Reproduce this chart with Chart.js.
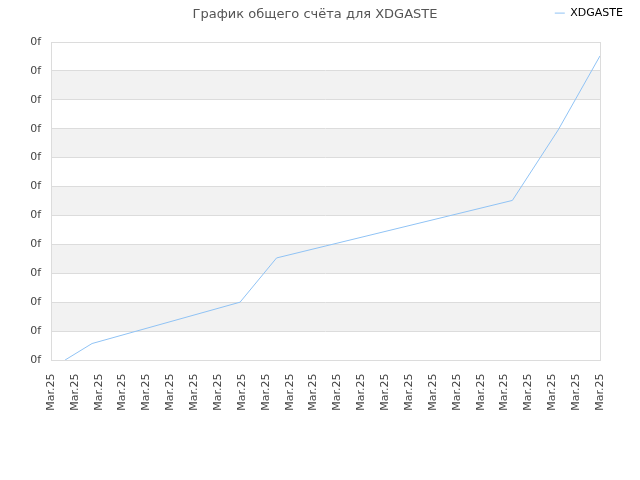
<!DOCTYPE html>
<html>
<head>
<meta charset="utf-8">
<script src="https://cdn.jsdelivr.net/npm/chart.js@4/dist/chart.umd.min.js"></script>
<style>
  body { margin: 0; background: #fff; }
  #wrap { width: 640px; height: 480px; }
</style>
</head>
<body>
<div id="wrap"><canvas id="mycanvas" width="640" height="480"></canvas></div>
<script>
// tick labels as shown on the reference
var xTickLabels = ['Mar.25','Mar.25','Mar.25','Mar.25','Mar.25','Mar.25','Mar.25','Mar.25',
                   'Mar.25','Mar.25','Mar.25','Mar.25','Mar.25','Mar.25','Mar.25','Mar.25',
                   'Mar.25','Mar.25','Mar.25','Mar.25','Mar.25','Mar.25','Mar.25','Mar.25'];
var yTickLabels = ['0f','0f','0f','0f','0f','0f','0f','0f','0f','0f','0f','0f'];

// series (positions on the tick index scale)
var xValues = [0.59, 1.72, 7.92, 9.45, 19.33, 21.25, 23];
var yValues = [0, 0.57, 2.0, 3.53, 5.52, 7.96, 10.52];

var points = [];
for (var i in xValues) {
	points.push({x: xValues[i], y: yValues[i]});
}

// striped background and frame around the plot
var bandsPlugin = {
	id: 'bands',
	beforeDraw: function(chart) {
		var ctx = chart.ctx, area = chart.chartArea, y = chart.scales.y;
		ctx.save();
		for (var v = 0; v < yTickLabels.length - 1; v++) {
			if (v % 2 == 1) {
				var top = y.getPixelForValue(v + 1), bot = y.getPixelForValue(v);
				ctx.fillStyle = '#f2f2f2';
				ctx.fillRect(area.left, top, area.right - area.left, bot - top);
			}
		}
		ctx.restore();
	},
	afterDatasetsDraw: function(chart) {
		var ctx = chart.ctx, area = chart.chartArea;
		ctx.save();
		ctx.strokeStyle = '#dcdcdc';
		ctx.lineWidth = 1;
		ctx.strokeRect(area.left + 0.5, area.top + 0.5, area.right - area.left, area.bottom - area.top);
		ctx.restore();
	}
};

var chartdata = {
	datasets: [
		{
			label: 'XDGASTE',
			data: points,
			borderColor: '#90c3f5',
			backgroundColor: '#90c3f5',
			borderWidth: 1,
			pointRadius: 0,
			fill: false,
			tension: 0
		}
	]
};

var ctx = document.getElementById('mycanvas');

var lineGraph = new Chart(ctx, {
	type: 'line',
	data: chartdata,
	plugins: [bandsPlugin],
	options: {
		responsive: false,
		animation: false,
		layout: { padding: { top: 1, left: 0, right: 10, bottom: 0 } },
		plugins: {
			title: {
				display: true,
				text: 'График общего счёта для XDGASTE',
				color: '#555',
				font: { family: 'DejaVu Sans', size: 13, weight: 'normal' },
				padding: { top: 6, bottom: -22 }
			},
			legend: {
				position: 'top',
				align: 'end',
				labels: {
					color: '#000',
					font: { family: 'DejaVu Sans', size: 11 },
					usePointStyle: true,
					pointStyle: 'line',
					pointStyleWidth: 10,
					boxHeight: 10,
					padding: 7
				}
			},
			tooltip: { enabled: false }
		},
		scales: {
			x: {
				type: 'linear',
				min: 0,
				max: 23,
				afterFit: function(scale) { scale.height = 120; },
				grid: { display: false },
				border: { display: false },
				ticks: {
					stepSize: 1,
					autoSkip: false,
					minRotation: 90,
					maxRotation: 90,
					padding: 6,
					color: '#444',
					font: { family: 'DejaVu Sans', size: 11 },
					callback: function(v) { return xTickLabels[v]; }
				}
			},
			xTop: {
				type: 'linear',
				position: 'top',
				display: true,
				afterFit: function(scale) { scale.height = 13; },
				grid: { display: false },
				border: { display: false },
				ticks: { display: false }
			},
			y: {
				min: 0,
				max: 11,
				afterFit: function(scale) { scale.width = 51; },
				grid: { color: '#dcdcdc', drawTicks: false },
				border: { display: false },
				ticks: {
					stepSize: 1,
					padding: 10,
					color: '#444',
					font: { family: 'DejaVu Sans', size: 11 },
					callback: function(v) { return yTickLabels[v]; }
				}
			},
			yRight: {
				position: 'right',
				display: true,
				afterFit: function(scale) { scale.width = 30; },
				grid: { display: false },
				border: { display: false },
				ticks: { display: false }
			}
		}
	}
});
</script>
</body>
</html>
